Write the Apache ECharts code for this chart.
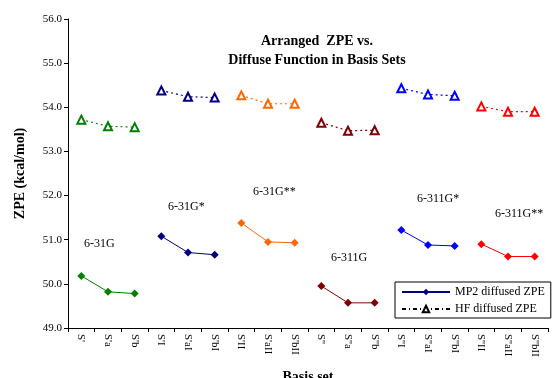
<!DOCTYPE html>
<html><head><meta charset="utf-8">
<script src="https://cdn.jsdelivr.net/npm/echarts@6/dist/echarts.min.js"></script>
<style>html,body{margin:0;padding:0;background:#fff}#c{width:553px;height:378px}</style>
</head><body><div id="c"></div>
<script>
const categories = ["S'","S'a","S'b","S'I","S'aI","S'bI","S'II","S'aII","S'bII","S''","S''a","S''b","S''I","S''aI","S''bI","S''II","S''aII","S''bII"];
const mp2Values = [50.18,49.82,49.78, 51.08,50.71,50.66, 51.38,50.95,50.93, 49.95,49.57,49.57, 51.22,50.88,50.86, 50.90,50.62,50.62];
const hfValues = [53.72,53.57,53.55, 54.38,54.24,54.22, 54.27,54.08,54.08, 53.65,53.47,53.48, 54.43,54.29,54.26, 54.02,53.90,53.90];
const groupNames = ["6-31G","6-31G*","6-31G**","6-311G","6-311G*","6-311G**"];
const groupColors = ["#008000","#000080","#FF6600","#800000","#0000FF","#FF0000"];
const yTicks = [49,50,51,52,53,54,55,56];

const F = "'Liberation Serif','Times New Roman',serif";
const series = [];
groupNames.forEach((g, gi) => {
  const pick = arr => arr.map((v, i) => (Math.floor(i / 3) === gi ? v : null));
  series.push({
    name: g + ' MP2', type: 'line', data: pick(mp2Values), symbol: 'diamond', symbolSize: 8,
    itemStyle: {color: groupColors[gi]}, lineStyle: {color: groupColors[gi], width: 1}, connectNulls: false
  });
  series.push({
    name: g + ' HF', type: 'line', data: pick(hfValues), symbol: 'emptyTriangle', symbolSize: 8,
    itemStyle: {color: groupColors[gi], borderWidth: 1.2}, lineStyle: {color: groupColors[gi], width: 1.2, type: [2,3]}
  });
});
series.push({name: 'MP2 diffused ZPE', type: 'line', data: [], symbol: 'diamond', symbolSize: 7,
  itemStyle: {color: '#000080'}, lineStyle: {color: '#000080', width: 1}});
series.push({name: 'HF diffused ZPE', type: 'line', data: [], symbol: 'emptyTriangle', symbolSize: 7,
  itemStyle: {color: '#000', borderWidth: 1}, lineStyle: {color: '#000', width: 1, type: [4,3,1,3]}});

const chart = echarts.init(document.getElementById('c'), null, {renderer: 'canvas'});
chart.setOption({
  backgroundColor: '#fff',
  animation: false,
  title: {
    text: 'Arranged  ZPE vs.\nDiffuse Function in Basis Sets',
    left: 312, top: 27, textAlign: 'center',
    textStyle: {fontFamily: F, fontWeight: 'bold', fontSize: 14, color: '#000', lineHeight: 19}
  },
  legend: {
    data: ['MP2 diffused ZPE', 'HF diffused ZPE'],
    orient: 'vertical', left: 395, top: 282,
    borderColor: '#000', borderWidth: 1, padding: [4, 6, 3, 6], itemGap: 5,
    itemWidth: 48, itemHeight: 8,
    textStyle: {fontFamily: F, fontSize: 12, color: '#000'}
  },
  grid: {left: 68, right: 5, top: 19, bottom: 50, containLabel: false, outerBoundsMode: 'none'},
  xAxis: {
    type: 'category', data: categories, boundaryGap: true,
    name: 'Basis set', nameLocation: 'middle', nameGap: 42,
    nameTextStyle: {fontFamily: F, fontWeight: 'bold', fontSize: 14, color: '#000'},
    axisLine: {lineStyle: {color: '#000'}},
    axisTick: {show: true, alignWithLabel: false, lineStyle: {color: '#000'}, length: 4},
    axisLabel: {rotate: -90, fontFamily: F, fontSize: 11, color: '#000', margin: 6}
  },
  yAxis: {
    type: 'value', min: yTicks[0], max: yTicks[yTicks.length - 1], interval: 1,
    name: 'ZPE (kcal/mol)', nameLocation: 'middle', nameGap: 41, nameRotate: 90,
    nameTextStyle: {fontFamily: F, fontWeight: 'bold', fontSize: 14, color: '#000'},
    splitLine: {show: false},
    axisLine: {show: true, lineStyle: {color: '#000'}},
    axisTick: {show: true, lineStyle: {color: '#000'}, length: 4},
    axisLabel: {fontFamily: F, fontSize: 11, color: '#000', formatter: v => v.toFixed(1), margin: 6}
  },
  graphic: [
    {type: 'text', left: 84, top: 238, style: {text: groupNames[0], font: '12px ' + F, fill: '#000'}},
    {type: 'text', left: 168, top: 201, style: {text: groupNames[1], font: '12px ' + F, fill: '#000'}},
    {type: 'text', left: 253, top: 186, style: {text: groupNames[2], font: '12px ' + F, fill: '#000'}},
    {type: 'text', left: 331, top: 252, style: {text: groupNames[3], font: '12px ' + F, fill: '#000'}},
    {type: 'text', left: 417, top: 193, style: {text: groupNames[4], font: '12px ' + F, fill: '#000'}},
    {type: 'text', left: 495, top: 208, style: {text: groupNames[5], font: '12px ' + F, fill: '#000'}}
  ],
  series: series
});
</script></body></html>
